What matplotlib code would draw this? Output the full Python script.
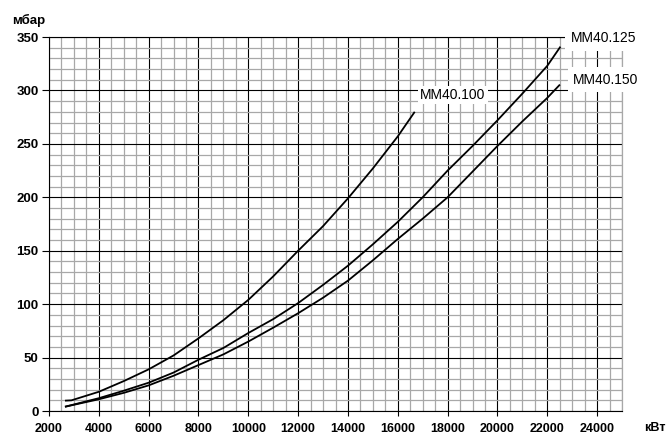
import matplotlib
matplotlib.use('agg')
import matplotlib.pyplot as plt
from matplotlib.ticker import MultipleLocator

plt.rcParams['font.family'] = ['Liberation Sans', 'DejaVu Sans']

# curves: power (kW) vs pressure drop (mbar)
x_100 = [2640, 2900, 4000, 5000, 6000, 7000, 8000, 9000, 10000, 11000,
         12000, 13000, 14000, 15000, 16000, 16680]
p_100 = [9.7, 10, 18, 28, 39, 52, 68, 85, 104, 126,
         150, 173, 199, 227, 257, 280]

x_125 = [2640, 4000, 5000, 6000, 7000, 8000, 9000, 10000, 11000, 12000, 13000,
         14000, 15000, 16000, 17000, 18000, 19000, 20000, 21000, 22000, 22530]
p_125 = [4, 12, 19, 26.5, 36, 48, 59, 73, 86, 101, 118,
         136, 156, 177, 200, 225, 248, 272, 297, 323, 341]

x_150 = [2640, 4000, 5000, 6000, 7000, 8000, 9000, 10000, 11000, 12000, 13000,
         14000, 15000, 16000, 17000, 18000, 19000, 20000, 21000, 22000, 22510]
p_150 = [4, 11, 17, 24, 33, 43, 53, 65, 78, 91.5, 106,
         122, 141, 161, 180, 200, 224, 248, 271, 293, 305.5]

x_ticks = list(range(2000, 24001, 2000))
y_ticks = list(range(0, 351, 50))

fig = plt.figure(figsize=(6.67, 4.36), dpi=100)
ax = fig.add_axes([0.0735, 0.0573, 0.859, 0.8578])

ax.set_xlim(2000, 25000)
ax.set_ylim(0, 350)

ax.xaxis.set_minor_locator(MultipleLocator(500))
ax.yaxis.set_minor_locator(MultipleLocator(10))
ax.set_xticks(x_ticks)
ax.set_yticks(y_ticks)

ax.grid(which='minor', color='#a8a8a8', lw=0.9)
ax.grid(which='major', color='black', lw=0.8)
ax.set_axisbelow(True)

for s in ['left', 'bottom', 'top']:
    ax.spines[s].set_color('black')
    ax.spines[s].set_linewidth(0.8)
ax.spines['right'].set_color('#a8a8a8')
ax.spines['right'].set_linewidth(0.9)

ax.tick_params(axis='x', which='major', direction='out', length=3.6, width=0.8,
               pad=5, labelsize=9)
ax.tick_params(axis='y', which='major', direction='out', length=5, width=0.8,
               pad=2.5, labelsize=9.5)
ax.tick_params(which='minor', length=0)
for lab in ax.get_xticklabels() + ax.get_yticklabels():
    lab.set_fontweight('bold')

for xs, ps in [(x_100, p_100), (x_125, p_125), (x_150, p_150)]:
    ax.plot(xs, ps, color='black', lw=1.3, solid_capstyle='butt')

ax.text(18208, 296, 'MM40.100', fontsize=10, ha='center', va='center',
        bbox=dict(fc='white', ec='none', pad=1.5))
ax.text(22940, 349, 'MM40.125', fontsize=10, ha='left', va='center',
        clip_on=False, bbox=dict(fc='white', ec='none', pad=4))
ax.text(23040, 310, 'MM40.150', fontsize=10, ha='left', va='center',
        clip_on=False, bbox=dict(fc='white', ec='none', pad=4))

fig.text(0.0435, 0.952, 'мбар', fontsize=9.5, fontweight='bold',
         ha='center', va='center')
fig.text(0.982, 0.031, 'кВт', fontsize=9, fontweight='bold',
         ha='center', va='top')

fig.savefig('out.png', dpi=100)
